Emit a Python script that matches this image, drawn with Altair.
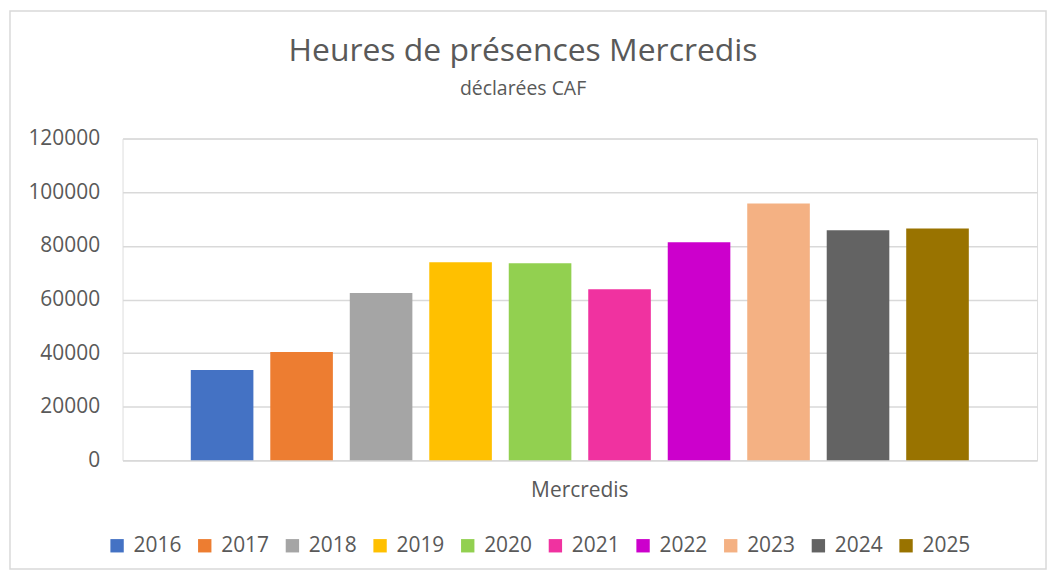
import altair as alt
import pandas as pd

years = ["2016", "2017", "2018", "2019", "2020", "2021", "2022", "2023", "2024", "2025"]
values = [33700, 40400, 62400, 73900, 73500, 63800, 81300, 95800, 85800, 86500]
category = "Mercredis"
colors = ["#4472C4", "#ED7D31", "#A5A5A5", "#FFC000", "#92D050",
          "#F032A0", "#CC00CC", "#F4B183", "#636363", "#997300"]

df = pd.DataFrame({"categorie": [category] * len(years), "annee": years, "heures": values})

FONT = "Open Sans"
TXT = "#595959"

bars = alt.Chart(df).mark_bar().encode(
    x=alt.X("categorie:N",
            scale=alt.Scale(paddingInner=0, paddingOuter=0.0877),
            axis=alt.Axis(title=None, labelAngle=0, ticks=False, labelPadding=19,
                          labelFontSize=21, labelColor=TXT, labelFont=FONT,
                          domainColor="#D9D9D9", domainWidth=1.5, grid=False)),
    xOffset=alt.XOffset("annee:N", scale=alt.Scale(paddingInner=0.2125, paddingOuter=0)),
    y=alt.Y("heures:Q",
            scale=alt.Scale(domain=[0, 120000], nice=False),
            axis=alt.Axis(title=None, values=[0, 20000, 40000, 60000, 80000, 100000, 120000],
                          format="d", domain=False, ticks=False, labelPadding=23,
                          labelFontSize=21, labelColor=TXT, labelFont=FONT,
                          gridColor="#D9D9D9", gridWidth=1.5)),
    color=alt.Color("annee:N",
                    scale=alt.Scale(domain=years, range=colors),
                    legend=alt.Legend(title=None, orient="none", direction="horizontal",
                                      columns=10, legendX=-16, legendY=398,
                                      symbolType="square", symbolSize=180,
                                      symbolStrokeWidth=0, symbolOpacity=1,
                                      labelFontSize=21, labelColor=TXT, labelFont=FONT,
                                      labelOffset=6, columnPadding=12)),
)

frame_df = pd.DataFrame({"k": [0]})
frame = alt.Chart(frame_df).mark_rect(fillOpacity=0, stroke="#D9D9D9", strokeWidth=1.5).encode(
    x=alt.value(-113), x2=alt.value(927), y=alt.value(-128), y2=alt.value(432)
)

chart = alt.layer(frame, bars).properties(
    width=918, height=323,
    padding={"left": 115, "top": 130, "right": 12, "bottom": 110},
    autosize=alt.AutoSizeParams(type="none"),
    title=alt.TitleParams(text="Heures de présences Mercredis", subtitle="déclarées CAF",
                          anchor="middle", frame="group", dx=-57, offset=-90,
                          fontSize=32, font=FONT, color=TXT, fontWeight="normal",
                          subtitleFontSize=19.5, subtitleFont=FONT, subtitleColor=TXT,
                          subtitlePadding=13),
).configure_view(strokeWidth=0).configure(font=FONT)

chart.save("out.html", embed_options={"renderer": "svg", "actions": False})
